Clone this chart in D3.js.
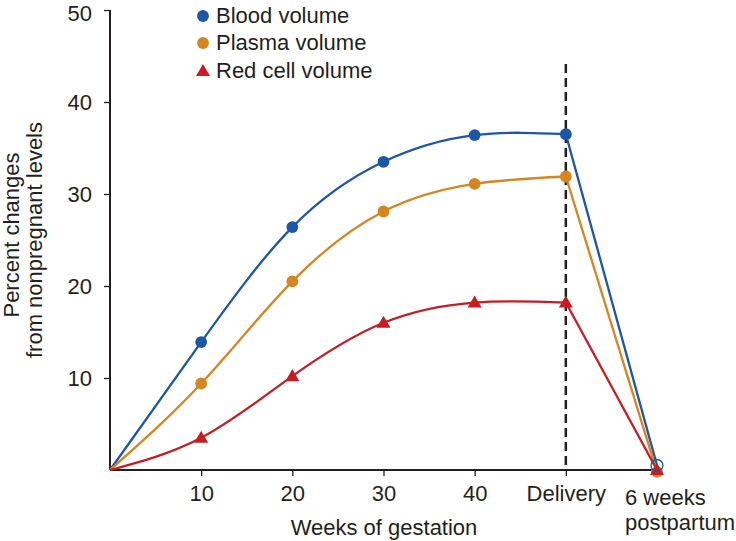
<!DOCTYPE html>
<html><head><meta charset="utf-8">
<script src="https://cdn.jsdelivr.net/npm/d3@7"></script>
<style>body{margin:0;background:#fff}text{font-family:"Liberation Sans",Arial,sans-serif;fill:#231f20}</style>
</head><body>
<svg id="c" width="736" height="541"></svg>
<script>
const weeks = [0, 10, 20, 30, 40, 50, 60];
const tickLabels = ["", "10", "20", "30", "40", "Delivery", "6 weeks|postpartum"];
const bloodVolume = [0, 13.9, 26.4, 33.5, 36.4, 36.5, 0.5];
const plasmaVolume = [0, 9.4, 20.5, 28.1, 31.1, 31.9, -0.2];
const redCellVolume = [0, 3.5, 10.2, 16.0, 18.2, 18.2, 0];
const yTicks = [10, 20, 30, 40, 50];
const seriesNames = ["Blood volume", "Plasma volume", "Red cell volume"];
const colors = ["#1b57a6", "#d6861f", "#c91b24"];

const FS = "22px";
const svg = d3.select("#c");
const x = d3.scaleLinear().domain([0, 60]).range([110, 657]);
const y = d3.scaleLinear().domain([0, 50]).range([470, 10]);

// axes
const yAxis = d3.axisLeft(y).tickValues(yTicks).tickSize(6).tickPadding(12);
const gy = svg.append("g").attr("transform", "translate(110,0)").call(yAxis);
gy.select(".domain").attr("d", `M0,${y(50)}V${y(0)}`).attr("stroke", "#231f20").attr("stroke-width", 2);
gy.selectAll(".tick line").attr("stroke", "#231f20").attr("stroke-width", 1.3);
gy.selectAll(".tick text").style("font-size", FS).style("font-family", "Liberation Sans, Arial, sans-serif").attr("fill", "#231f20")
  .attr("dy", (d) => d === 50 ? "0.48em" : "0.36em");

const xAxis = d3.axisBottom(x).tickValues(weeks.slice(1, 6)).tickSize(6).tickPadding(9)
  .tickFormat((d) => tickLabels[weeks.indexOf(d)]);
const gx = svg.append("g").attr("transform", `translate(0,${y(0)})`).call(xAxis);
gx.select(".domain").attr("d", `M${x(0)},0H${x(60)}`).attr("stroke", "#231f20").attr("stroke-width", 2);
gx.selectAll(".tick line").attr("stroke", "#231f20").attr("stroke-width", 1.3);
gx.selectAll(".tick text").style("font-size", FS).style("font-family", "Liberation Sans, Arial, sans-serif").attr("fill", "#231f20");

// 6 weeks label (two lines, left aligned)
const pp = tickLabels[6].split("|");
svg.append("text").attr("x", 625).attr("y", 505).style("font-size", FS).text(pp[0]);
svg.append("text").attr("x", 625).attr("y", 530).style("font-size", FS).text(pp[1]);

// axis titles
svg.append("text").attr("x", 384).attr("y", 535).attr("text-anchor", "middle").style("font-size", FS).text("Weeks of gestation");
svg.append("text").attr("transform", "translate(19,235) rotate(-90)").attr("text-anchor", "middle").style("font-size", FS).text("Percent changes");
svg.append("text").attr("transform", "translate(42,240) rotate(-90)").attr("text-anchor", "middle").style("font-size", FS).text("from nonpregnant levels");

// dashed delivery line
svg.append("line").attr("x1", x(50)).attr("x2", x(50)).attr("y1", 64).attr("y2", y(0))
  .attr("stroke", "#231f20").attr("stroke-width", 2.5).attr("stroke-dasharray", "9,5");

const all = [bloodVolume, plasmaVolume, redCellVolume];
const curve = d3.line().x((d, i) => x(weeks[i])).y((d) => y(d)).curve(d3.curveNatural);
const straight = d3.line().x((d) => x(d[0])).y((d) => y(d[1]));

all.forEach((vals, s) => {
  svg.append("path").attr("d", curve(vals.slice(0, 6))).attr("fill", "none").attr("stroke", colors[s]).attr("stroke-width", 2.3);
  svg.append("path").attr("d", straight([[weeks[5], vals[5]], [weeks[6], vals[6]]])).attr("fill", "none").attr("stroke", colors[s]).attr("stroke-width", 2.3);
});

// markers
const circ = d3.symbol().type(d3.symbolCircle).size(110);
const tri = d3.symbol().type(d3.symbolTriangle).size(85);
[1, 2, 0].forEach((s) => {
  const vals = all[s];
  vals.forEach((v, i) => {
    if (i === 0) return;
    const hollow = (s === 0 && i === 6);
    svg.append("path")
      .attr("d", s === 2 ? tri() : circ())
      .attr("transform", `translate(${x(weeks[i])},${y(v) + (s === 2 ? 1 : 0)})`)
      .attr("fill", hollow ? "none" : colors[s])
      .attr("stroke", hollow ? colors[s] : "none")
      .attr("stroke-width", 1.3);
  });
});

// legend
const ly = [16, 43, 71];
seriesNames.forEach((n, s) => {
  svg.append("path").attr("d", s === 2 ? tri() : circ()).attr("transform", `translate(203,${ly[s] + (s === 2 ? 1 : 0)})`).attr("fill", colors[s]);
  svg.append("text").attr("x", 216).attr("y", ly[s] + 7).style("font-size", FS).text(n);
});
</script>
</body></html>
